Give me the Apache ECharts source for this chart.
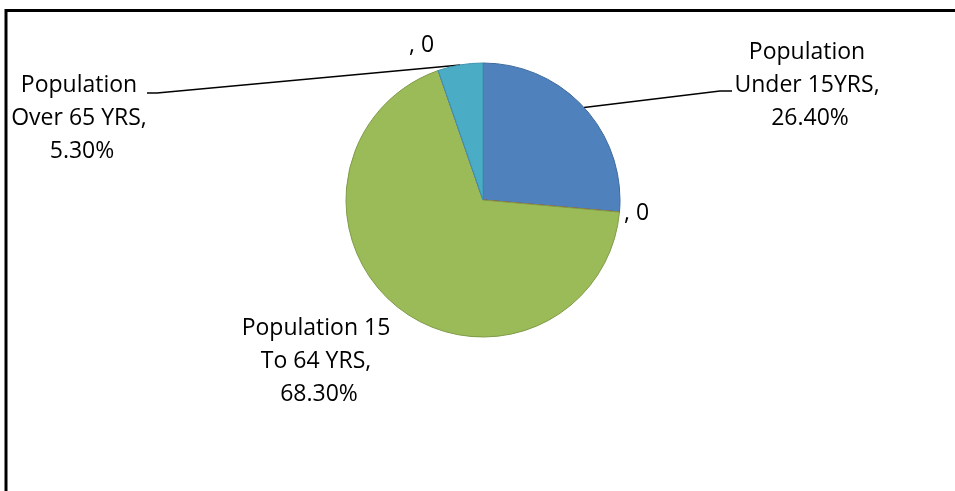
<!DOCTYPE html>
<html>
<head>
<meta charset="utf-8">
<script src="https://cdn.jsdelivr.net/npm/echarts@6/dist/echarts.min.js"></script>
<style>
  html, body { margin: 0; padding: 0; background: #fff; }
  #chart { width: 955px; height: 491px; }
</style>
</head>
<body>
<div id="chart"></div>
<script>
// age groups, the blank ones are the zero rows of the sheet
const categories = ['Population Under 15YRS', '', 'Population 15 To 64 YRS', '', 'Population Over 65 YRS']
const shares = [26.4, 0, 68.3, 0, 5.3]

const fills = ['#4F81BD', '#C0504D', '#9BBB59', '#8064A2', '#4BACC6']
const edges = ['#3D6A9E', '#B0443F', '#7E9B46', '#8064A2', '#3B94AC']

// where the labels sit (Excel placed them by hand)
const labelSpots = [
  { x: 810, y: 36, align: 'center', line: [[720, 91], [732, 91]] },
  { x: 624, y: 197, align: 'left' },
  { x: 319, y: 312, align: 'center' },
  { x: 409, y: 29, align: 'left' },
  { x: 82, y: 69, align: 'center', line: [[157, 93], [147, 93]] }
]

const chart = echarts.init(document.getElementById('chart'))

const pieData = categories.map((name, i) => ({
  name: name,
  value: shares[i],
  itemStyle: { color: fills[i], borderColor: edges[i], borderWidth: 1 },
  labelLine: { show: !!labelSpots[i].line }
}))

const option = {
  animation: false,
  graphic: [{
    type: 'rect',
    shape: { x: 6, y: 10.5, width: 1000, height: 600 },
    style: { fill: 'none', stroke: '#000', lineWidth: 3 }
  }],
  series: [{
    type: 'pie',
    center: [483, 200],
    radius: 137,
    startAngle: 90,
    clockwise: true,
    minAngle: 0,
    avoidLabelOverlap: false,
    data: pieData,
    label: {
      show: true,
      position: 'outside',
      color: '#000',
      fontFamily: 'Open Sans',
      fontSize: 23,
      lineHeight: 33,
      formatter: (p) => {
        if (p.value === 0) return ', 0'
        return p.name + ', ' + p.value.toFixed(2) + '%'
      },
      width: 165,
      overflow: 'break'
    },
    labelLine: {
      show: true,
      lineStyle: { color: '#000', width: 1.5 }
    },
    labelLayout: (p) => {
      const spot = labelSpots[p.dataIndex]
      const res = { x: spot.x, y: spot.y, align: spot.align, verticalAlign: 'top' }
      if (spot.line && p.labelLinePoints) {
        res.labelLinePoints = [p.labelLinePoints[0], spot.line[0], spot.line[1]]
      }
      return res
    }
  }]
}

chart.setOption(option)
</script>
</body>
</html>
